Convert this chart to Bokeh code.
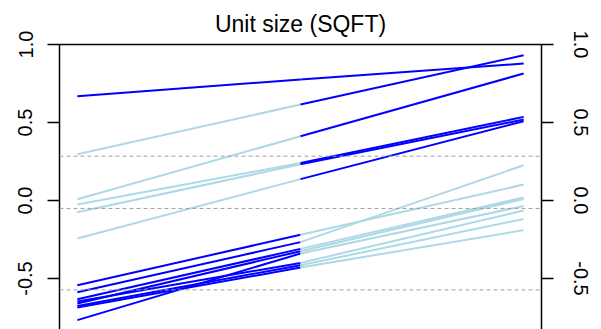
from bokeh.plotting import figure
from bokeh.models import Range1d, LinearAxis, FixedTicker, Span, ColumnDataSource
from bokeh.embed import file_html
from bokeh.resources import INLINE

# ---- data ----
time_points = [0, 1, 2]
value_start = [0.669, 0.297, 0.008, -0.026, -0.075, -0.244,
               -0.543, -0.588, -0.633, -0.648, -0.660, -0.676, -0.686, -0.767]
value_mid = [0.776, 0.615, 0.412, 0.240, 0.232, 0.137,
             -0.220, -0.267, -0.310, -0.400, -0.325, -0.415, -0.430, -0.340]
value_end = [0.878, 0.931, 0.814, 0.536, 0.519, 0.508,
             0.102, 0.226, 0.020, -0.064, 0.010, -0.118, -0.190, -0.035]
color_first = ["blue"] + ["lightblue"] * 5 + ["blue"] * 8
color_second = ["blue"] * 6 + ["lightblue"] * 8
ref_levels = [0.284, -0.051, -0.573]
y_ticks = [-0.5, 0.0, 0.5, 1.0]
y_tick_labels = ["-0.5", "0.0", "0.5", "1.0"]
title_text = "Unit size (SQFT)"

FONT = "Liberation Sans"

n = len(value_start)
first = ColumnDataSource(dict(
    x0=[time_points[0]] * n, y0=value_start,
    x1=[time_points[1]] * n, y1=value_mid, c=color_first))
second = ColumnDataSource(dict(
    x0=[time_points[1]] * n, y0=value_mid,
    x1=[time_points[2]] * n, y1=value_end, c=color_second))

p = figure(width=601, height=329, output_backend="svg", toolbar_location=None,
           x_range=Range1d(-0.08, 2.08), y_range=Range1d(-0.827, 1.0),
           x_axis_location=None, y_axis_location="left",
           min_border_left=59, min_border_right=60, min_border_top=44,
           min_border_bottom=0, outline_line_color=None,
           background_fill_color="white", border_fill_color="white")
p.grid.grid_line_color = None

p.title.text = title_text
p.title.text_font = FONT
p.title.text_font_size = "23px"
p.title.text_font_style = "normal"
p.title.text_color = "black"
p.title.align = "center"
p.title.standoff = 16

top_axis = LinearAxis(ticker=FixedTicker(ticks=[]), major_label_text_font_size="0px",
                      major_tick_out=0, major_tick_in=0, minor_tick_out=0, minor_tick_in=0,
                      major_label_standoff=0, axis_line_color="black", axis_line_width=1.5)
p.add_layout(top_axis, "above")
right_axis = LinearAxis()
p.add_layout(right_axis, "right")

labels = {t: s for t, s in zip(y_ticks, y_tick_labels)}
for ax, standoff in ((p.yaxis[0], 15), (right_axis, 20)):
    ax.ticker = FixedTicker(ticks=y_ticks)
    ax.major_label_overrides = labels
    ax.major_label_orientation = "vertical"
    ax.major_label_text_font = FONT
    ax.major_label_text_font_size = "20px"
    ax.major_label_text_color = "black"
    ax.major_label_standoff = standoff
    ax.major_tick_out = 12
    ax.major_tick_in = 0
    ax.minor_tick_out = 0
    ax.minor_tick_in = 0
    ax.axis_line_color = "black"
    ax.axis_line_width = 1.5
    ax.major_tick_line_width = 1.5

for lvl in ref_levels:
    p.add_layout(Span(location=lvl, dimension="width", line_color="#a0a0a0",
                      line_width=1, line_dash="4 3"))

p.segment("x0", "y0", "x1", "y1", source=first, line_color="c", line_width=2)
p.segment("x0", "y0", "x1", "y1", source=second, line_color="c", line_width=2)

open("out.html", "w").write(file_html(p, INLINE))
